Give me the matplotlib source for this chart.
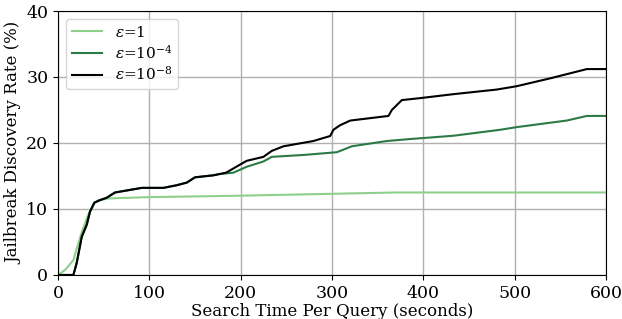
import matplotlib
matplotlib.use('Agg')
import matplotlib.pyplot as plt

plt.rcParams['font.family'] = 'DejaVu Serif'
plt.rcParams['mathtext.fontset'] = 'dejavuserif'
plt.rcParams['font.size'] = 12
plt.rcParams['xtick.labelsize'] = 12.5
plt.rcParams['ytick.labelsize'] = 12.5

# eps = 1
x_e1 = [0, 8, 17, 20, 26, 33, 40, 48, 55, 100, 194, 300, 370, 600]
y_e1 = [0, 0.8, 2.3, 3.8, 6.5, 9.1, 11.0, 11.4, 11.6, 11.8, 12.0, 12.3, 12.5, 12.5]

# eps = 1e-4
x_e4 = [0, 16.8, 20.4, 26, 31.4, 35, 39.8, 45, 53.3, 62.4, 75, 91.7, 115.4, 130, 141, 150,
        170, 177, 192, 206.6, 224.9, 234, 270, 305, 309, 321.6, 360, 385.5, 433, 484,
        502, 557, 579, 600]
y_e4 = [0, 0, 1.8, 5.8, 7.6, 9.6, 10.95, 11.3, 11.7, 12.5, 12.8, 13.2, 13.2, 13.6, 14.0, 14.8,
        15.1, 15.3, 15.5, 16.4, 17.2, 17.9, 18.2, 18.6, 18.8, 19.5, 20.3, 20.6, 21.1, 22.0,
        22.4, 23.4, 24.1, 24.1]

# eps = 1e-8
x_e8 = [0, 16.8, 20.4, 26, 31.4, 35, 39.8, 45, 53.3, 62.4, 75, 91.7, 115.4, 130, 141, 150,
        170, 184, 194, 206.6, 224.9, 234, 246.8, 279.6, 298, 301.5, 308.9, 320, 361.8, 365.5,
        376.4, 396.5, 433, 480.5, 502, 539, 579, 600]
y_e8 = [0, 0, 1.8, 5.8, 7.6, 9.6, 10.95, 11.3, 11.7, 12.5, 12.8, 13.2, 13.2, 13.6, 14.0, 14.8,
        15.1, 15.5, 16.3, 17.3, 17.9, 18.8, 19.5, 20.3, 21.06, 22.0, 22.7, 23.4, 24.1, 25.0,
        26.5, 26.8, 27.4, 28.1, 28.6, 29.8, 31.2, 31.2]

fig = plt.figure(figsize=(6.22, 3.19), dpi=100)
ax = fig.add_axes([0.0933, 0.138, 0.881, 0.8275])

ax.plot(x_e1, y_e1, color='#8dd08b', lw=1.5, label=r'$\epsilon$=1')
ax.plot(x_e4, y_e4, color='#2e7a46', lw=1.5, label=r'$\epsilon$=$10^{-4}$')
ax.plot(x_e8, y_e8, color='black', lw=1.5, label=r'$\epsilon$=$10^{-8}$')

ax.set_xlim(0, 600)
ax.set_ylim(0, 40)
ax.set_xticks([0, 100, 200, 300, 400, 500, 600])
ax.set_yticks([0, 10, 20, 30, 40])
ax.grid(True, color='#b0b0b0', lw=1)
ax.set_axisbelow(True)
ax.set_xlabel('Search Time Per Query (seconds)', labelpad=1)
ax.set_ylabel('Jailbreak Discovery Rate (%)', labelpad=3)
ax.legend(loc='upper left', fontsize=11, labelspacing=0.25, borderpad=0.4)

fig.savefig('out.png', dpi=100)
